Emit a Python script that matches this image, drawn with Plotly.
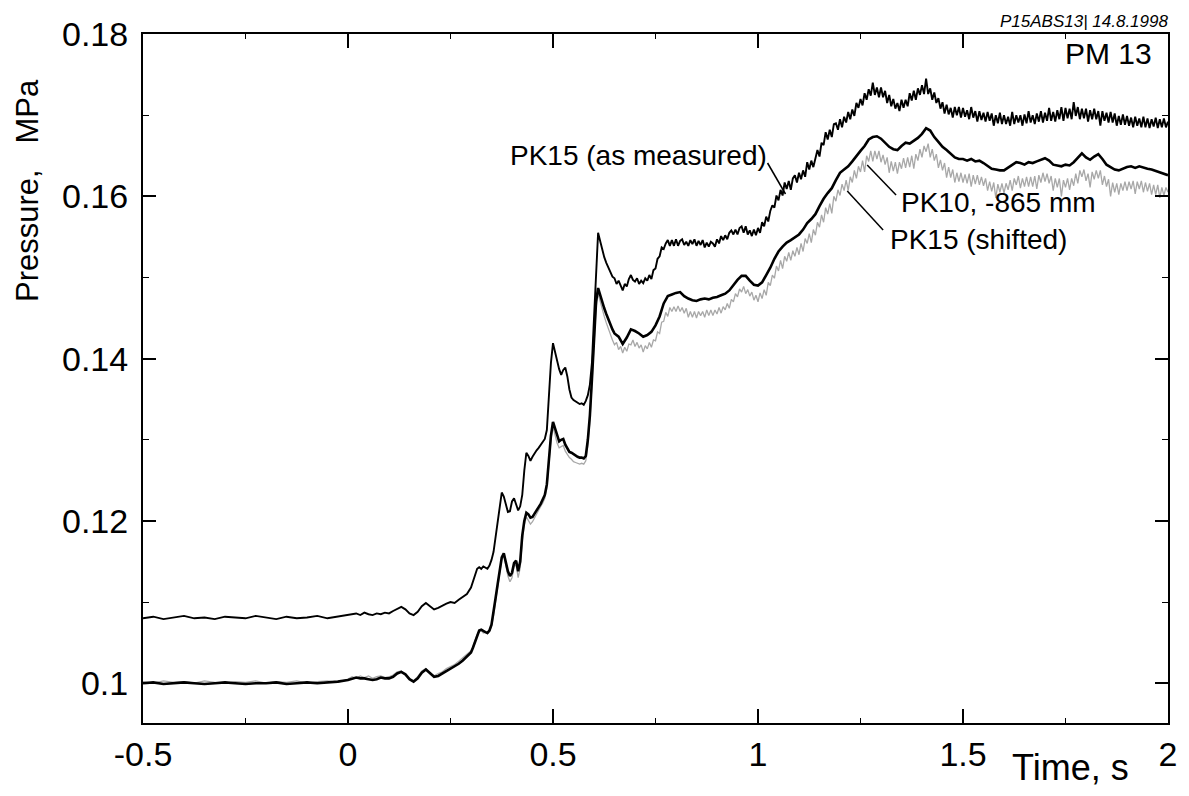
import plotly.graph_objects as go

# ---------------- data ----------------
# sampling times, s
t_seg1 = [-0.5, -0.475, -0.45, -0.425, -0.4, -0.375, -0.35, -0.325, -0.3, -0.275,
          -0.25, -0.225, -0.2, -0.175, -0.15, -0.125, -0.1, -0.075, -0.05, -0.025]
t_seg2 = [0.00, 0.01, 0.02, 0.03, 0.04, 0.05, 0.06, 0.07, 0.08, 0.09,
          0.10, 0.11, 0.12, 0.13, 0.14, 0.15, 0.16, 0.17, 0.18, 0.19,
          0.20, 0.21, 0.22, 0.23, 0.24, 0.25, 0.26, 0.27, 0.28, 0.29]
t_seg3 = [0.300, 0.305, 0.310, 0.315, 0.320, 0.325, 0.330, 0.335, 0.340, 0.345,
          0.350, 0.355, 0.360, 0.365, 0.370, 0.375, 0.380, 0.385, 0.390, 0.395,
          0.400, 0.405, 0.410, 0.415, 0.420, 0.425, 0.430, 0.435, 0.440, 0.445,
          0.450, 0.455, 0.460, 0.465, 0.470, 0.475, 0.480, 0.485, 0.490, 0.495,
          0.500, 0.505, 0.510, 0.515, 0.520, 0.525, 0.530, 0.535, 0.540, 0.545,
          0.550, 0.555, 0.560, 0.565, 0.570, 0.575, 0.580, 0.585, 0.590, 0.595,
          0.600, 0.605, 0.610, 0.615, 0.620, 0.625, 0.630, 0.635, 0.640, 0.645]
# coarse late segment (PK10)
t_seg4 = [0.65, 0.66, 0.67, 0.68, 0.69, 0.70, 0.71, 0.72, 0.73, 0.74,
          0.75, 0.76, 0.77, 0.78, 0.79, 0.80, 0.81, 0.82, 0.83, 0.84,
          0.85, 0.86, 0.87, 0.88, 0.89, 0.90, 0.91, 0.92, 0.93, 0.94,
          0.95, 0.96, 0.97, 0.98, 0.99, 1.00, 1.01, 1.02, 1.03, 1.04,
          1.05, 1.06, 1.07, 1.08, 1.09, 1.10, 1.11, 1.12, 1.13, 1.14,
          1.15, 1.16, 1.17, 1.18, 1.19, 1.20, 1.21, 1.22, 1.23, 1.24,
          1.25, 1.26, 1.27, 1.28, 1.29, 1.30, 1.31, 1.32, 1.33, 1.34,
          1.35, 1.36, 1.37, 1.38, 1.39, 1.40, 1.41, 1.42, 1.43, 1.44,
          1.45, 1.46, 1.47, 1.48, 1.49, 1.50, 1.51, 1.52, 1.53, 1.54,
          1.55, 1.56, 1.57, 1.58, 1.59, 1.60, 1.61, 1.62, 1.63, 1.64,
          1.65, 1.66, 1.67, 1.68, 1.69, 1.70, 1.71, 1.72, 1.73, 1.74,
          1.75, 1.76, 1.77, 1.78, 1.79, 1.80, 1.81, 1.82, 1.83, 1.84,
          1.85, 1.86, 1.87, 1.88, 1.89, 1.90, 1.91, 1.92, 1.93, 1.94,
          1.95, 1.96, 1.97, 1.98, 1.99, 2.00]
# fine late segment (noisy PK15 traces)
t_seg4_fine = [
    0.650, 0.655, 0.660, 0.665, 0.670, 0.675, 0.680, 0.685, 0.690, 0.695,
    0.700, 0.705, 0.710, 0.715, 0.720, 0.725, 0.730, 0.735, 0.740, 0.745,
    0.750, 0.755, 0.760, 0.765, 0.770, 0.775, 0.780, 0.785, 0.790, 0.795,
    0.800, 0.805, 0.810, 0.815, 0.820, 0.825, 0.830, 0.835, 0.840, 0.845,
    0.850, 0.855, 0.860, 0.865, 0.870, 0.875, 0.880, 0.885, 0.890, 0.895,
    0.900, 0.905, 0.910, 0.915, 0.920, 0.925, 0.930, 0.935, 0.940, 0.945,
    0.950, 0.955, 0.960, 0.965, 0.970, 0.975, 0.980, 0.985, 0.990, 0.995,
    1.000, 1.005, 1.010, 1.015, 1.020, 1.025, 1.030, 1.035, 1.040, 1.045,
    1.050, 1.055, 1.060, 1.065, 1.070, 1.075, 1.080, 1.085, 1.090, 1.095,
    1.100, 1.105, 1.110, 1.115, 1.120, 1.125, 1.130, 1.135, 1.140, 1.145,
    1.150, 1.155, 1.160, 1.165, 1.170, 1.175, 1.180, 1.185, 1.190, 1.195,
    1.200, 1.205, 1.210, 1.215, 1.220, 1.225, 1.230, 1.235, 1.240, 1.245,
    1.250, 1.255, 1.260, 1.265, 1.270, 1.275, 1.280, 1.285, 1.290, 1.295,
    1.300, 1.305, 1.310, 1.315, 1.320, 1.325, 1.330, 1.335, 1.340, 1.345,
    1.350, 1.355, 1.360, 1.365, 1.370, 1.375, 1.380, 1.385, 1.390, 1.395,
    1.400, 1.405, 1.410, 1.415, 1.420, 1.425, 1.430, 1.435, 1.440, 1.445,
    1.450, 1.455, 1.460, 1.465, 1.470, 1.475, 1.480, 1.485, 1.490, 1.495,
    1.500, 1.505, 1.510, 1.515, 1.520, 1.525, 1.530, 1.535, 1.540, 1.545,
    1.550, 1.555, 1.560, 1.565, 1.570, 1.575, 1.580, 1.585, 1.590, 1.595,
    1.600, 1.605, 1.610, 1.615, 1.620, 1.625, 1.630, 1.635, 1.640, 1.645,
    1.650, 1.655, 1.660, 1.665, 1.670, 1.675, 1.680, 1.685, 1.690, 1.695,
    1.700, 1.705, 1.710, 1.715, 1.720, 1.725, 1.730, 1.735, 1.740, 1.745,
    1.750, 1.755, 1.760, 1.765, 1.770, 1.775, 1.780, 1.785, 1.790, 1.795,
    1.800, 1.805, 1.810, 1.815, 1.820, 1.825, 1.830, 1.835, 1.840, 1.845,
    1.850, 1.855, 1.860, 1.865, 1.870, 1.875, 1.880, 1.885, 1.890, 1.895,
    1.900, 1.905, 1.910, 1.915, 1.920, 1.925, 1.930, 1.935, 1.940, 1.945,
    1.950, 1.955, 1.960, 1.965, 1.970, 1.975, 1.980, 1.985, 1.990, 1.995,
    2.000]

# PK15 (as measured), MPa
pk15_meas_1 = [0.1080, 0.1082, 0.1079, 0.1081, 0.1083, 0.1080, 0.1081, 0.1079, 0.1082, 0.1081,
               0.1080, 0.1083, 0.1081, 0.1079, 0.1082, 0.1080, 0.1081, 0.1083, 0.1080, 0.1082]
pk15_meas_2 = [0.1084, 0.1085, 0.1086, 0.1084, 0.1087, 0.1085, 0.1084, 0.1086, 0.1085, 0.1087,
               0.1086, 0.1089, 0.1092, 0.1094, 0.1091, 0.1086, 0.1084, 0.1088, 0.1095, 0.1099,
               0.1095, 0.1091, 0.1093, 0.1096, 0.1098, 0.1100, 0.1099, 0.1103, 0.1106, 0.1110]
pk15_meas_3 = [0.1118, 0.1126, 0.1135, 0.1141, 0.1143, 0.1141, 0.1144, 0.1142, 0.1141, 0.1145,
               0.1152, 0.1162, 0.1180, 0.1202, 0.1222, 0.1235, 0.1230, 0.1219, 0.1211, 0.1212,
               0.1224, 0.1228, 0.1220, 0.1213, 0.1218, 0.1232, 0.1262, 0.1284, 0.1280, 0.1274,
               0.1279, 0.1284, 0.1287, 0.1290, 0.1294, 0.1297, 0.1301, 0.1312, 0.1350, 0.1395,
               0.1419, 0.1408, 0.1397, 0.1387, 0.1380, 0.1386, 0.1389, 0.1378, 0.1362, 0.1352,
               0.1349, 0.1347, 0.1345, 0.1344, 0.1345, 0.1343, 0.1348, 0.1355, 0.1368, 0.1395,
               0.1450, 0.1510, 0.1555, 0.1545, 0.1533, 0.1525, 0.1518, 0.1513, 0.1507, 0.1501]
pk15_meas_4 = [
    0.1499, 0.1492, 0.1496, 0.1489, 0.1484, 0.1492, 0.1489, 0.1498, 0.1503, 0.1497,
    0.1495, 0.1499, 0.1492, 0.1496, 0.1493, 0.1499, 0.1496, 0.1503, 0.1498, 0.1509,
    0.1511, 0.1523, 0.1526, 0.1537, 0.1535, 0.1542, 0.1546, 0.1539, 0.1546, 0.1539,
    0.1547, 0.1539, 0.1545, 0.1547, 0.1540, 0.1544, 0.1539, 0.1546, 0.1541, 0.1547,
    0.1539, 0.1545, 0.1540, 0.1546, 0.1537, 0.1543, 0.1538, 0.1544, 0.1542, 0.1538,
    0.1547, 0.1542, 0.1551, 0.1546, 0.1552, 0.1547, 0.1555, 0.1558, 0.1553, 0.1559,
    0.1553, 0.1561, 0.1563, 0.1555, 0.1563, 0.1553, 0.1558, 0.1551, 0.1559, 0.1552,
    0.1561, 0.1555, 0.1568, 0.1563, 0.1575, 0.1569, 0.1582, 0.1589, 0.1586, 0.1601,
    0.1595, 0.1608, 0.1601, 0.1617, 0.1609, 0.1619, 0.1608, 0.1622, 0.1626, 0.1617,
    0.1629, 0.1621, 0.1632, 0.1624, 0.1642, 0.1633, 0.1644, 0.1636, 0.1647, 0.1657,
    0.1649, 0.1666, 0.1663, 0.1679, 0.1670, 0.1682, 0.1673, 0.1689, 0.1690, 0.1682,
    0.1695, 0.1685, 0.1698, 0.1691, 0.1704, 0.1695, 0.1707, 0.1699, 0.1715, 0.1709,
    0.1720, 0.1712, 0.1727, 0.1719, 0.1732, 0.1724, 0.1740, 0.1725, 0.1734, 0.1722,
    0.1734, 0.1722, 0.1730, 0.1715, 0.1725, 0.1711, 0.1720, 0.1708, 0.1715, 0.1705,
    0.1719, 0.1709, 0.1719, 0.1711, 0.1727, 0.1718, 0.1730, 0.1719, 0.1733, 0.1725,
    0.1737, 0.1726, 0.1745, 0.1726, 0.1733, 0.1719, 0.1728, 0.1715, 0.1721, 0.1708,
    0.1716, 0.1702, 0.1713, 0.1701, 0.1709, 0.1697, 0.1710, 0.1700, 0.1710, 0.1697,
    0.1709, 0.1698, 0.1706, 0.1695, 0.1710, 0.1697, 0.1705, 0.1692, 0.1705, 0.1694,
    0.1703, 0.1692, 0.1704, 0.1693, 0.1702, 0.1687, 0.1700, 0.1690, 0.1703, 0.1689,
    0.1700, 0.1689, 0.1698, 0.1687, 0.1704, 0.1689, 0.1700, 0.1691, 0.1700, 0.1687,
    0.1701, 0.1690, 0.1705, 0.1691, 0.1700, 0.1689, 0.1702, 0.1692, 0.1705, 0.1691,
    0.1703, 0.1693, 0.1709, 0.1693, 0.1704, 0.1692, 0.1706, 0.1695, 0.1710, 0.1693,
    0.1709, 0.1696, 0.1708, 0.1695, 0.1716, 0.1699, 0.1710, 0.1695, 0.1708, 0.1696,
    0.1708, 0.1692, 0.1706, 0.1695, 0.1708, 0.1695, 0.1705, 0.1687, 0.1705, 0.1693,
    0.1703, 0.1691, 0.1704, 0.1691, 0.1702, 0.1687, 0.1699, 0.1688, 0.1701, 0.1688,
    0.1699, 0.1687, 0.1697, 0.1685, 0.1698, 0.1687, 0.1696, 0.1685, 0.1698, 0.1685,
    0.1696, 0.1684, 0.1695, 0.1686, 0.1697, 0.1684, 0.1695, 0.1685, 0.1696, 0.1685,
    0.1692]

# PK10, -865 mm, MPa
pk10_1 = [0.1000, 0.1001, 0.0999, 0.1000, 0.1001, 0.1000, 0.0999, 0.1000, 0.1001, 0.1000,
          0.0999, 0.1000, 0.1000, 0.1001, 0.0999, 0.1000, 0.1001, 0.1000, 0.1001, 0.1002]
pk10_2 = [0.1004, 0.1006, 0.1007, 0.1006, 0.1006, 0.1005, 0.1004, 0.1005, 0.1007, 0.1006,
          0.1006, 0.1008, 0.1012, 0.1014, 0.1011, 0.1005, 0.1002, 0.1006, 0.1013, 0.1017,
          0.1013, 0.1008, 0.1009, 0.1012, 0.1015, 0.1017, 0.1020, 0.1024, 0.1028, 0.1033]
pk10_3 = [0.1038, 0.1044, 0.1052, 0.1060, 0.1065, 0.1066, 0.1064, 0.1063, 0.1062, 0.1065,
          0.1072, 0.1086, 0.1105, 0.1122, 0.1140, 0.1155, 0.1160, 0.1150, 0.1138, 0.1132,
          0.1136, 0.1148, 0.1151, 0.1138, 0.1150, 0.1182, 0.1200, 0.1210, 0.1208, 0.1204,
          0.1205, 0.1209, 0.1214, 0.1217, 0.1221, 0.1226, 0.1232, 0.1245, 0.1275, 0.1305,
          0.1322, 0.1314, 0.1303, 0.1298, 0.1300, 0.1301, 0.1294, 0.1289, 0.1285, 0.1284,
          0.1282, 0.1280, 0.1279, 0.1278, 0.1278, 0.1277, 0.1280, 0.1300, 0.1330, 0.1375,
          0.1430, 0.1470, 0.1487, 0.1478, 0.1469, 0.1462, 0.1455, 0.1448, 0.1441, 0.1436]
pk10_4 = [0.1431, 0.1427, 0.1418, 0.1426, 0.1436, 0.1434, 0.1431, 0.1427, 0.1429, 0.1433,
          0.1441, 0.1452, 0.1468, 0.1477, 0.1479, 0.1481, 0.1482, 0.1477, 0.1474, 0.1472,
          0.1471, 0.1473, 0.1474, 0.1473, 0.1475, 0.1476, 0.1478, 0.1480, 0.1484, 0.1491,
          0.1497, 0.1502, 0.1502, 0.1496, 0.1491, 0.1490, 0.1494, 0.1503, 0.1512, 0.1523,
          0.1532, 0.1538, 0.1543, 0.1546, 0.1549, 0.1553, 0.1559, 0.1567, 0.1572, 0.1578,
          0.1588, 0.1597, 0.1604, 0.1610, 0.1620, 0.1629, 0.1633, 0.1637, 0.1643, 0.1650,
          0.1656, 0.1662, 0.1670, 0.1673, 0.1674, 0.1671, 0.1666, 0.1661, 0.1658, 0.1657,
          0.1662, 0.1666, 0.1665, 0.1668, 0.1672, 0.1677, 0.1684, 0.1681, 0.1673, 0.1667,
          0.1661, 0.1657, 0.1653, 0.1648, 0.1646, 0.1646, 0.1644, 0.1646, 0.1643, 0.1644,
          0.1641, 0.1637, 0.1634, 0.1633, 0.1632, 0.1632, 0.1635, 0.1639, 0.1642, 0.1641,
          0.1639, 0.1642, 0.1641, 0.1643, 0.1645, 0.1647, 0.1644, 0.1639, 0.1638, 0.1637,
          0.1639, 0.1638, 0.1642, 0.1648, 0.1653, 0.1648, 0.1645, 0.1649, 0.1652, 0.1646,
          0.1639, 0.1636, 0.1633, 0.1632, 0.1634, 0.1636, 0.1637, 0.1635, 0.1637, 0.1635,
          0.1634, 0.1633, 0.1631, 0.1629, 0.1628, 0.1626]

# PK15 (shifted), MPa
pk15_shift_1 = [0.1002, 0.1000, 0.1003, 0.1001, 0.1002, 0.1000, 0.1003, 0.1001, 0.1000, 0.1002,
                0.1001, 0.1003, 0.1000, 0.1002, 0.1001, 0.1003, 0.1000, 0.1002, 0.1003, 0.1001]
pk15_shift_2 = [0.1005, 0.1008, 0.1006, 0.1009, 0.1007, 0.1009, 0.1006, 0.1008, 0.1009, 0.1007,
                0.1008, 0.1010, 0.1014, 0.1015, 0.1010, 0.1005, 0.1003, 0.1008, 0.1015, 0.1018,
                0.1012, 0.1009, 0.1012, 0.1014, 0.1018, 0.1020, 0.1023, 0.1027, 0.1031, 0.1036]
pk15_shift_3 = [0.1040, 0.1046, 0.1053, 0.1060, 0.1064, 0.1065, 0.1062, 0.1063, 0.1061, 0.1064,
                0.1070, 0.1083, 0.1101, 0.1120, 0.1138, 0.1153, 0.1158, 0.1146, 0.1132, 0.1125,
                0.1130, 0.1144, 0.1146, 0.1130, 0.1142, 0.1175, 0.1195, 0.1205, 0.1201, 0.1196,
                0.1199, 0.1204, 0.1210, 0.1213, 0.1218, 0.1222, 0.1228, 0.1240, 0.1270, 0.1300,
                0.1316, 0.1306, 0.1296, 0.1290, 0.1292, 0.1293, 0.1286, 0.1281, 0.1278, 0.1276,
                0.1273, 0.1272, 0.1271, 0.1270, 0.1271, 0.1270, 0.1274, 0.1293, 0.1323, 0.1368,
                0.1423, 0.1463, 0.1480, 0.1470, 0.1460, 0.1452, 0.1444, 0.1436, 0.1429, 0.1423]
pk15_shift_4 = [
    0.1417, 0.1420, 0.1411, 0.1415, 0.1407, 0.1414, 0.1409, 0.1418, 0.1417, 0.1423,
    0.1415, 0.1420, 0.1413, 0.1417, 0.1408, 0.1416, 0.1412, 0.1420, 0.1414, 0.1423,
    0.1422, 0.1433, 0.1431, 0.1445, 0.1446, 0.1457, 0.1452, 0.1463, 0.1458, 0.1464,
    0.1458, 0.1465, 0.1458, 0.1463, 0.1456, 0.1462, 0.1451, 0.1458, 0.1451, 0.1458,
    0.1450, 0.1458, 0.1453, 0.1458, 0.1451, 0.1460, 0.1453, 0.1460, 0.1453, 0.1460,
    0.1455, 0.1463, 0.1456, 0.1464, 0.1460, 0.1468, 0.1462, 0.1473, 0.1470, 0.1480,
    0.1476, 0.1486, 0.1482, 0.1489, 0.1480, 0.1485, 0.1477, 0.1482, 0.1472, 0.1478,
    0.1470, 0.1481, 0.1474, 0.1485, 0.1478, 0.1494, 0.1490, 0.1503, 0.1499, 0.1514,
    0.1508, 0.1521, 0.1511, 0.1526, 0.1520, 0.1531, 0.1521, 0.1533, 0.1526, 0.1537,
    0.1528, 0.1542, 0.1532, 0.1548, 0.1542, 0.1554, 0.1543, 0.1559, 0.1552, 0.1568,
    0.1562, 0.1577, 0.1568, 0.1586, 0.1578, 0.1591, 0.1579, 0.1600, 0.1594, 0.1608,
    0.1601, 0.1615, 0.1607, 0.1620, 0.1607, 0.1624, 0.1617, 0.1632, 0.1622, 0.1637,
    0.1630, 0.1644, 0.1630, 0.1650, 0.1643, 0.1656, 0.1643, 0.1656, 0.1646, 0.1656,
    0.1642, 0.1651, 0.1639, 0.1648, 0.1629, 0.1643, 0.1631, 0.1642, 0.1628, 0.1642,
    0.1634, 0.1647, 0.1635, 0.1648, 0.1636, 0.1650, 0.1634, 0.1652, 0.1644, 0.1658,
    0.1648, 0.1662, 0.1655, 0.1665, 0.1648, 0.1658, 0.1644, 0.1652, 0.1635, 0.1645,
    0.1632, 0.1641, 0.1623, 0.1636, 0.1623, 0.1633, 0.1617, 0.1629, 0.1618, 0.1629,
    0.1617, 0.1627, 0.1616, 0.1628, 0.1612, 0.1626, 0.1615, 0.1626, 0.1614, 0.1624,
    0.1613, 0.1622, 0.1607, 0.1618, 0.1606, 0.1617, 0.1598, 0.1615, 0.1605, 0.1616,
    0.1604, 0.1616, 0.1608, 0.1620, 0.1607, 0.1622, 0.1614, 0.1625, 0.1610, 0.1622,
    0.1612, 0.1624, 0.1612, 0.1624, 0.1612, 0.1625, 0.1609, 0.1626, 0.1617, 0.1629,
    0.1618, 0.1628, 0.1616, 0.1625, 0.1607, 0.1622, 0.1611, 0.1622, 0.1600, 0.1620,
    0.1611, 0.1622, 0.1608, 0.1622, 0.1613, 0.1628, 0.1616, 0.1632, 0.1624, 0.1633,
    0.1619, 0.1628, 0.1611, 0.1630, 0.1621, 0.1632, 0.1622, 0.1632, 0.1614, 0.1625,
    0.1612, 0.1621, 0.1600, 0.1617, 0.1605, 0.1616, 0.1602, 0.1616, 0.1607, 0.1618,
    0.1607, 0.1618, 0.1609, 0.1619, 0.1603, 0.1618, 0.1609, 0.1619, 0.1605, 0.1617,
    0.1606, 0.1616, 0.1602, 0.1614, 0.1602, 0.1614, 0.1598, 0.1611, 0.1601, 0.1611,
    0.1605]

x_tick_vals = [-0.5, 0, 0.5, 1, 1.5, 2]
x_tick_text = ["-0.5", "0", "0.5", "1", "1.5", "2"]
y_tick_vals = [0.10, 0.12, 0.14, 0.16, 0.18]
y_tick_text = ["0.1", "0.12", "0.14", "0.16", "0.18"]

# ---------------- assemble ----------------
time_fine = t_seg1 + t_seg2 + t_seg3 + t_seg4_fine
time_coarse = t_seg1 + t_seg2 + t_seg3 + t_seg4
pk15_meas = pk15_meas_1 + pk15_meas_2 + pk15_meas_3 + pk15_meas_4
pk10 = pk10_1 + pk10_2 + pk10_3 + pk10_4
pk15_shift = pk15_shift_1 + pk15_shift_2 + pk15_shift_3 + pk15_shift_4
assert len(time_fine) == len(pk15_meas) == len(pk15_shift), (
    len(time_fine), len(pk15_meas), len(pk15_shift))
assert len(time_coarse) == len(pk10), (len(time_coarse), len(pk10))

FONT = "Liberation Sans, Arial, sans-serif"

fig = go.Figure()
fig.add_trace(go.Scatter(x=time_fine, y=pk15_shift, mode="lines", name="PK15 (shifted)",
                         line=dict(color="#a8a8a8", width=1.3)))
fig.add_trace(go.Scatter(x=time_coarse, y=pk10, mode="lines", name="PK10, -865 mm",
                         line=dict(color="black", width=2.6)))
fig.add_trace(go.Scatter(x=time_fine, y=pk15_meas, mode="lines", name="PK15 (as measured)",
                         line=dict(color="black", width=1.9)))

L, R, T, B = 143, 17, 34, 73
W, H = 1189, 796
PW, PH = W - L - R, H - T - B


def px(xp):
    return (xp - L) / PW


def py(yp):
    return (H - B - yp) / PH


fig.update_layout(
    width=W, height=H,
    margin=dict(l=L, r=R, t=T, b=B, pad=0),
    paper_bgcolor="white", plot_bgcolor="white",
    showlegend=False,
    font=dict(family=FONT, color="black"),
    xaxis=dict(range=[-0.5, 2], tickvals=x_tick_vals, ticktext=x_tick_text,
               ticks="inside", ticklen=14, tickwidth=1.5, tickcolor="black",
               minor=dict(ticks="inside", ticklen=5, tickwidth=1, tickcolor="black", dtick=0.25),
               showline=True, linewidth=2, linecolor="black", mirror="ticks",
               showgrid=False, zeroline=False,
               tickfont=dict(family=FONT, size=34, color="black"),
               ticklabelstandoff=0),
    yaxis=dict(range=[0.0951, 0.18], tickvals=y_tick_vals, ticktext=y_tick_text,
               ticks="inside", ticklen=13, tickwidth=1.5, tickcolor="black",
               minor=dict(ticks="inside", ticklen=6, tickwidth=1, tickcolor="black", dtick=0.01),
               showline=True, linewidth=2, linecolor="black", mirror="ticks",
               showgrid=False, zeroline=False,
               tickfont=dict(family=FONT, size=34, color="black"),
               ticklabelstandoff=6),
)

ann = [
    dict(text="Pressure,\u00a0\u00a0\u00a0MPa", textangle=-90, x=px(27), y=py(77),
         xanchor="center", yanchor="top", font=dict(size=31)),
    dict(text="Time, s", x=px(1074), y=py(767), xanchor="center", yanchor="middle",
         font=dict(size=36)),
    dict(text="<i>P15ABS13| 14.8.1998</i>", x=px(1174), y=py(21), xanchor="right",
         yanchor="middle", font=dict(size=17)),
    dict(text="PM 13", x=px(1158), y=py(54), xanchor="right", yanchor="middle",
         font=dict(size=30)),
    dict(text="PK15 (as measured)", x=px(640), y=py(155), xanchor="center",
         yanchor="middle", font=dict(size=28)),
    dict(text="PK10, -865 mm", x=px(902), y=py(203), xanchor="left",
         yanchor="middle", font=dict(size=28)),
    dict(text="PK15 (shifted)", x=px(891), y=py(239), xanchor="left",
         yanchor="middle", font=dict(size=28)),
]
for a in ann:
    a.update(xref="paper", yref="paper", showarrow=False)
fig.update_layout(annotations=ann)

leaders = [((770, 163), (788, 194)), ((870, 165), (899, 195)), ((850, 191), (886, 230))]
for (x0, y0), (x1, y1) in leaders:
    fig.add_shape(type="line", xref="paper", yref="paper",
                  x0=px(x0), y0=py(y0), x1=px(x1), y1=py(y1),
                  line=dict(color="black", width=1.5))

fig.write_html("out.html")
